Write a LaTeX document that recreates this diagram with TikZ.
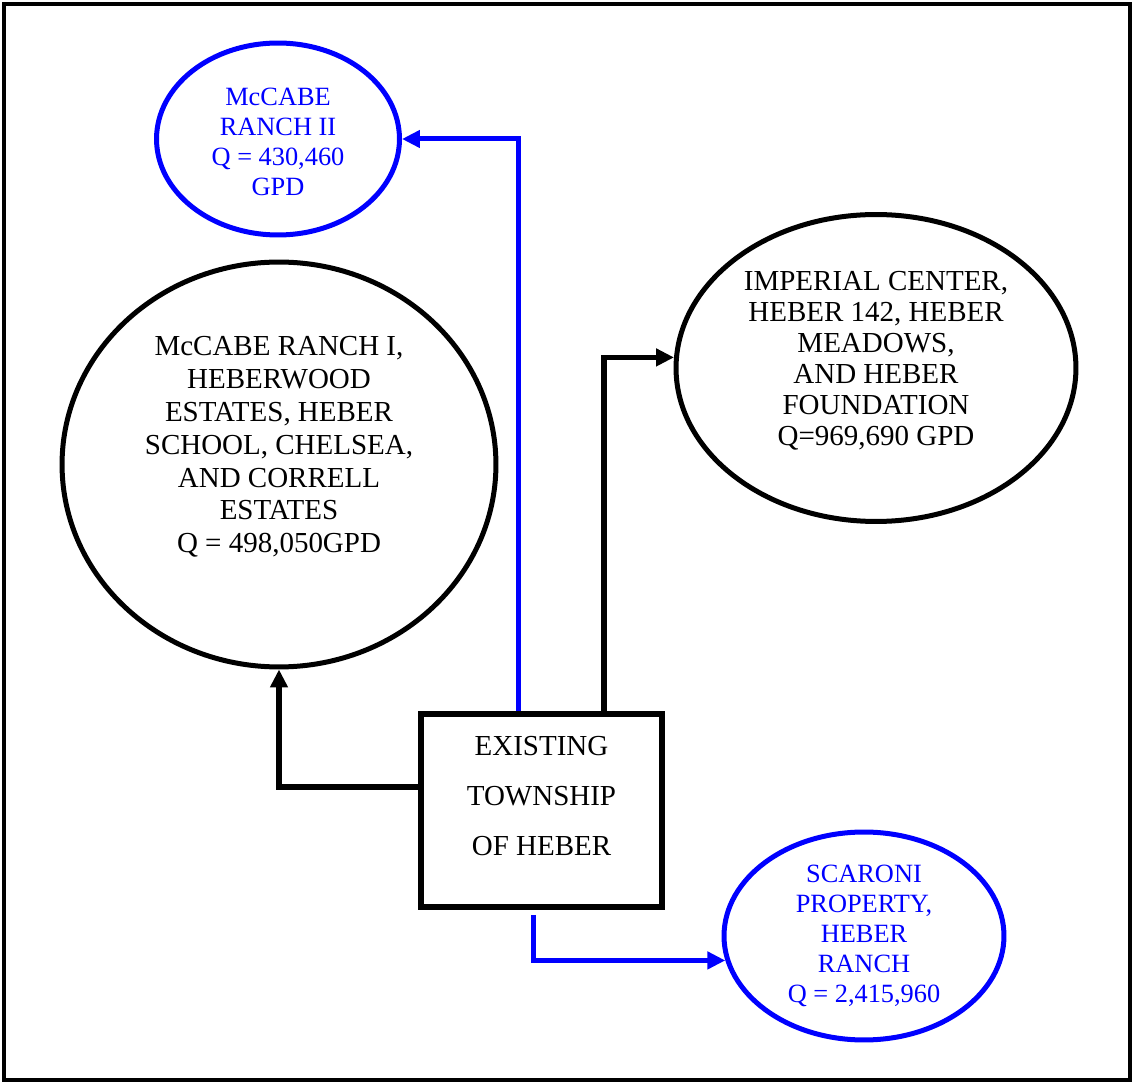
\documentclass[tikz,border=0pt]{standalone}
\usepackage{fontspec}
\setmainfont{Liberation Serif}
\usetikzlibrary{shapes.geometric,arrows.meta}
\begin{document}
\begin{tikzpicture}[x=0.02cm,y=-0.02cm,
        oval/.style={ellipse,draw,line width=0.1cm,inner sep=0pt},
        blueoval/.style={oval,draw=blue},
        txt/.style={align=center,font=\fontsize{16.5}{18.7}\selectfont},
        bluetxt/.style={align=center,text=blue,font=\fontsize{15}{17}\selectfont},
        flow/.style={line width=0.11cm,-{Triangle[length=0.36cm,width=0.34cm]}},
        blueflow/.style={flow,draw=blue,line width=0.1cm}]
            \useasboundingbox (0,0) rectangle (1134,1084);
            \draw[line width=0.09cm] (4,4) rectangle (1130,1080);
            \node[blueoval,minimum width=4.86cm,minimum height=3.84cm] (ranchtwo) at (278,139) {};
            \node[bluetxt] (ranchtwotext) at (278,142) {McCABE\\RANCH II\\Q = 430,460\\GPD};
            \node[oval,minimum width=8.68cm,minimum height=8.1cm] (ranchone) at (279,464.5) {};
            \node[txt] (ranchonetext) at (279,447) {McCABE RANCH I,\\HEBERWOOD\\ESTATES, HEBER\\SCHOOL, CHELSEA,\\AND CORRELL\\ESTATES\\Q = 498,050GPD};
            \node[oval,minimum width=8cm,minimum height=6.14cm] (imperial) at (876,368) {};
            \node[txt,font=\fontsize{16.5}{17.6}\selectfont] (imperialtext) at (876,361) {IMPERIAL CENTER,\\HEBER 142, HEBER\\MEADOWS,\\AND HEBER\\FOUNDATION\\Q=969,690 GPD};
            \node[blueoval,minimum width=5.6cm,minimum height=4.16cm] (scaroni) at (864,936) {};
            \node[bluetxt] (scaronitext) at (864,936) {SCARONI\\PROPERTY,\\HEBER\\RANCH\\Q = 2,415,960};
            \node[draw,line width=0.12cm,minimum width=4.82cm,minimum height=3.86cm] (township) at (541.5,810.5) {};
            \node[txt,font=\fontsize{16.5}{28.3}\selectfont] (townshiptext) at (541.5,796) {EXISTING\\TOWNSHIP\\OF HEBER};
            \draw[blueflow] (township.north) ++(-23.5,0) |- (ranchtwo.east);
            \draw[flow] (township.north) ++(62.5,0) |- (imperial.177);
            \draw[flow] (township.west) ++(0,-23.5) -| (ranchone.south);
            \draw[blueflow] (township.south) ++(-8.5,5) |- (scaroni.190);
        \end{tikzpicture}
\end{document}
